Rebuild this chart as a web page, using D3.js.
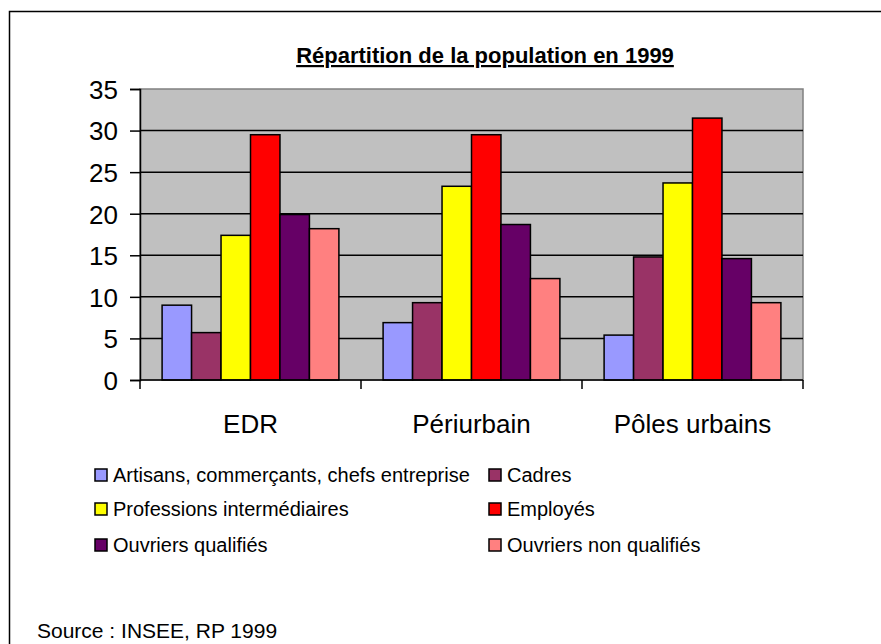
<!DOCTYPE html>
<html>
<head>
<meta charset="utf-8">
<script src="https://cdn.jsdelivr.net/npm/d3@7"></script>
<style>
  body { margin: 0; background: #fff; }
  svg text { font-family: "Liberation Sans", Arial, sans-serif; fill: #000; }
</style>
</head>
<body>
<svg id="chart" width="881" height="644"></svg>
<script>
const categories = ['EDR', 'Périurbain', 'Pôles urbains'];
const series = [
  'Artisans, commerçants, chefs entreprise',
  'Cadres',
  'Professions intermédiaires',
  'Employés',
  'Ouvriers qualifiés',
  'Ouvriers non qualifiés'
];
// one array per series, values per category (EDR, Périurbain, Pôles urbains)
const artisans = [9.0, 6.9, 5.4];
const cadres = [5.7, 9.3, 14.8];
const profInter = [17.4, 23.3, 23.7];
const employes = [29.5, 29.5, 31.5];
const ouvQual = [19.9, 18.7, 14.6];
const ouvNonQual = [18.2, 12.2, 9.3];
const values = [artisans, cadres, profInter, employes, ouvQual, ouvNonQual];
const colors = ['#9999FF', '#993366', '#FFFF00', '#FF0000', '#660066', '#FF8080'];
const yTicks = [0, 5, 10, 15, 20, 25, 30, 35];

const svg = d3.select('#chart');

// outer frame (runs off right / bottom edge)
svg.append('path')
  .attr('d', 'M9.5,900 V11.5 H900')
  .attr('fill', 'none')
  .attr('stroke', '#000')
  .attr('stroke-width', 1.5);

const plot = {left: 140, right: 803, top: 89, bottom: 380};

const x = d3.scaleBand()
  .domain(categories)
  .range([plot.left, plot.right])
  .padding(0);

const xs = d3.scaleBand()
  .domain(d3.range(series.length))
  .range([0, x.bandwidth()])
  .paddingInner(0)
  .paddingOuter(0.75);

const y = d3.scaleLinear()
  .domain([0, 35])
  .range([plot.bottom, plot.top]);

// plot background
svg.append('rect')
  .attr('x', plot.left).attr('y', plot.top)
  .attr('width', plot.right - plot.left)
  .attr('height', plot.bottom - plot.top)
  .attr('fill', '#C0C0C0')
  .attr('stroke', '#808080')
  .attr('stroke-width', 1.5);

// gridlines
svg.append('g')
  .selectAll('line')
  .data(yTicks.filter(d => d > 0 && d < 35))
  .enter().append('line')
  .attr('x1', plot.left).attr('x2', plot.right)
  .attr('y1', d => y(d)).attr('y2', d => y(d))
  .attr('stroke', '#000')
  .attr('stroke-width', 1.5);

// bars
const groups = svg.append('g')
  .selectAll('g')
  .data(values)
  .enter().append('g')
  .attr('fill', (d, i) => colors[i]);

groups.selectAll('rect')
  .data((d, i) => d.map((v, j) => ({v, i, cat: categories[j]})))
  .enter().append('rect')
  .attr('x', d => x(d.cat) + xs(d.i))
  .attr('width', xs.bandwidth())
  .attr('y', d => y(d.v))
  .attr('height', d => y(0) - y(d.v))
  .attr('stroke', '#000')
  .attr('stroke-width', 1.5);

// y axis
const yAxis = svg.append('g')
  .attr('transform', `translate(${plot.left},0)`)
  .call(d3.axisLeft(y).tickValues(yTicks).tickSize(10).tickPadding(12));
yAxis.select('.domain').attr('stroke-width', 1.5);
yAxis.selectAll('.tick line').attr('stroke-width', 1.5);
yAxis.selectAll('text')
  .style('font-size', '26px')
  .attr('dy', '0.36em');

// x axis: ticks at band boundaries
const xAxisG = svg.append('g');
xAxisG.append('line')
  .attr('x1', plot.left).attr('x2', plot.right)
  .attr('y1', plot.bottom).attr('y2', plot.bottom)
  .attr('stroke', '#000').attr('stroke-width', 1.5);
xAxisG.selectAll('line.tk')
  .data(categories.map(c => x(c)).concat([x(categories[categories.length - 1]) + x.bandwidth()]))
  .enter().append('line')
  .attr('class', 'tk')
  .attr('x1', d => d).attr('x2', d => d)
  .attr('y1', plot.bottom).attr('y2', plot.bottom + 9)
  .attr('stroke', '#000').attr('stroke-width', 1.5);
xAxisG.selectAll('text')
  .data(categories)
  .enter().append('text')
  .attr('x', d => x(d) + x.bandwidth() / 2)
  .attr('y', 433)
  .attr('text-anchor', 'middle')
  .style('font-size', '26px')
  .text(d => d);

// title
svg.append('text')
  .attr('x', 485)
  .attr('y', 63)
  .attr('text-anchor', 'middle')
  .style('font-size', '22px')
  .style('font-weight', 'bold')
  .style('text-decoration', 'underline')
  .text('Répartition de la population en 1999');

// legend
const legendPos = [
  {x: 95, y: 475}, {x: 489, y: 475},
  {x: 95, y: 509}, {x: 489, y: 509},
  {x: 95, y: 545}, {x: 489, y: 545}
];
const legend = svg.append('g')
  .selectAll('g')
  .data(series)
  .enter().append('g')
  .attr('transform', (d, i) => `translate(${legendPos[i].x},${legendPos[i].y})`);
legend.append('rect')
  .attr('x', 0).attr('y', -6)
  .attr('width', 12).attr('height', 12)
  .attr('fill', (d, i) => colors[i])
  .attr('stroke', '#000')
  .attr('stroke-width', 1.5);
legend.append('text')
  .attr('x', 18)
  .attr('y', 0)
  .attr('dy', '0.35em')
  .style('font-size', '20px')
  .text(d => d);

// source
svg.append('text')
  .attr('x', 37)
  .attr('y', 638)
  .style('font-size', '21px')
  .text('Source : INSEE, RP 1999');
</script>
</body>
</html>
